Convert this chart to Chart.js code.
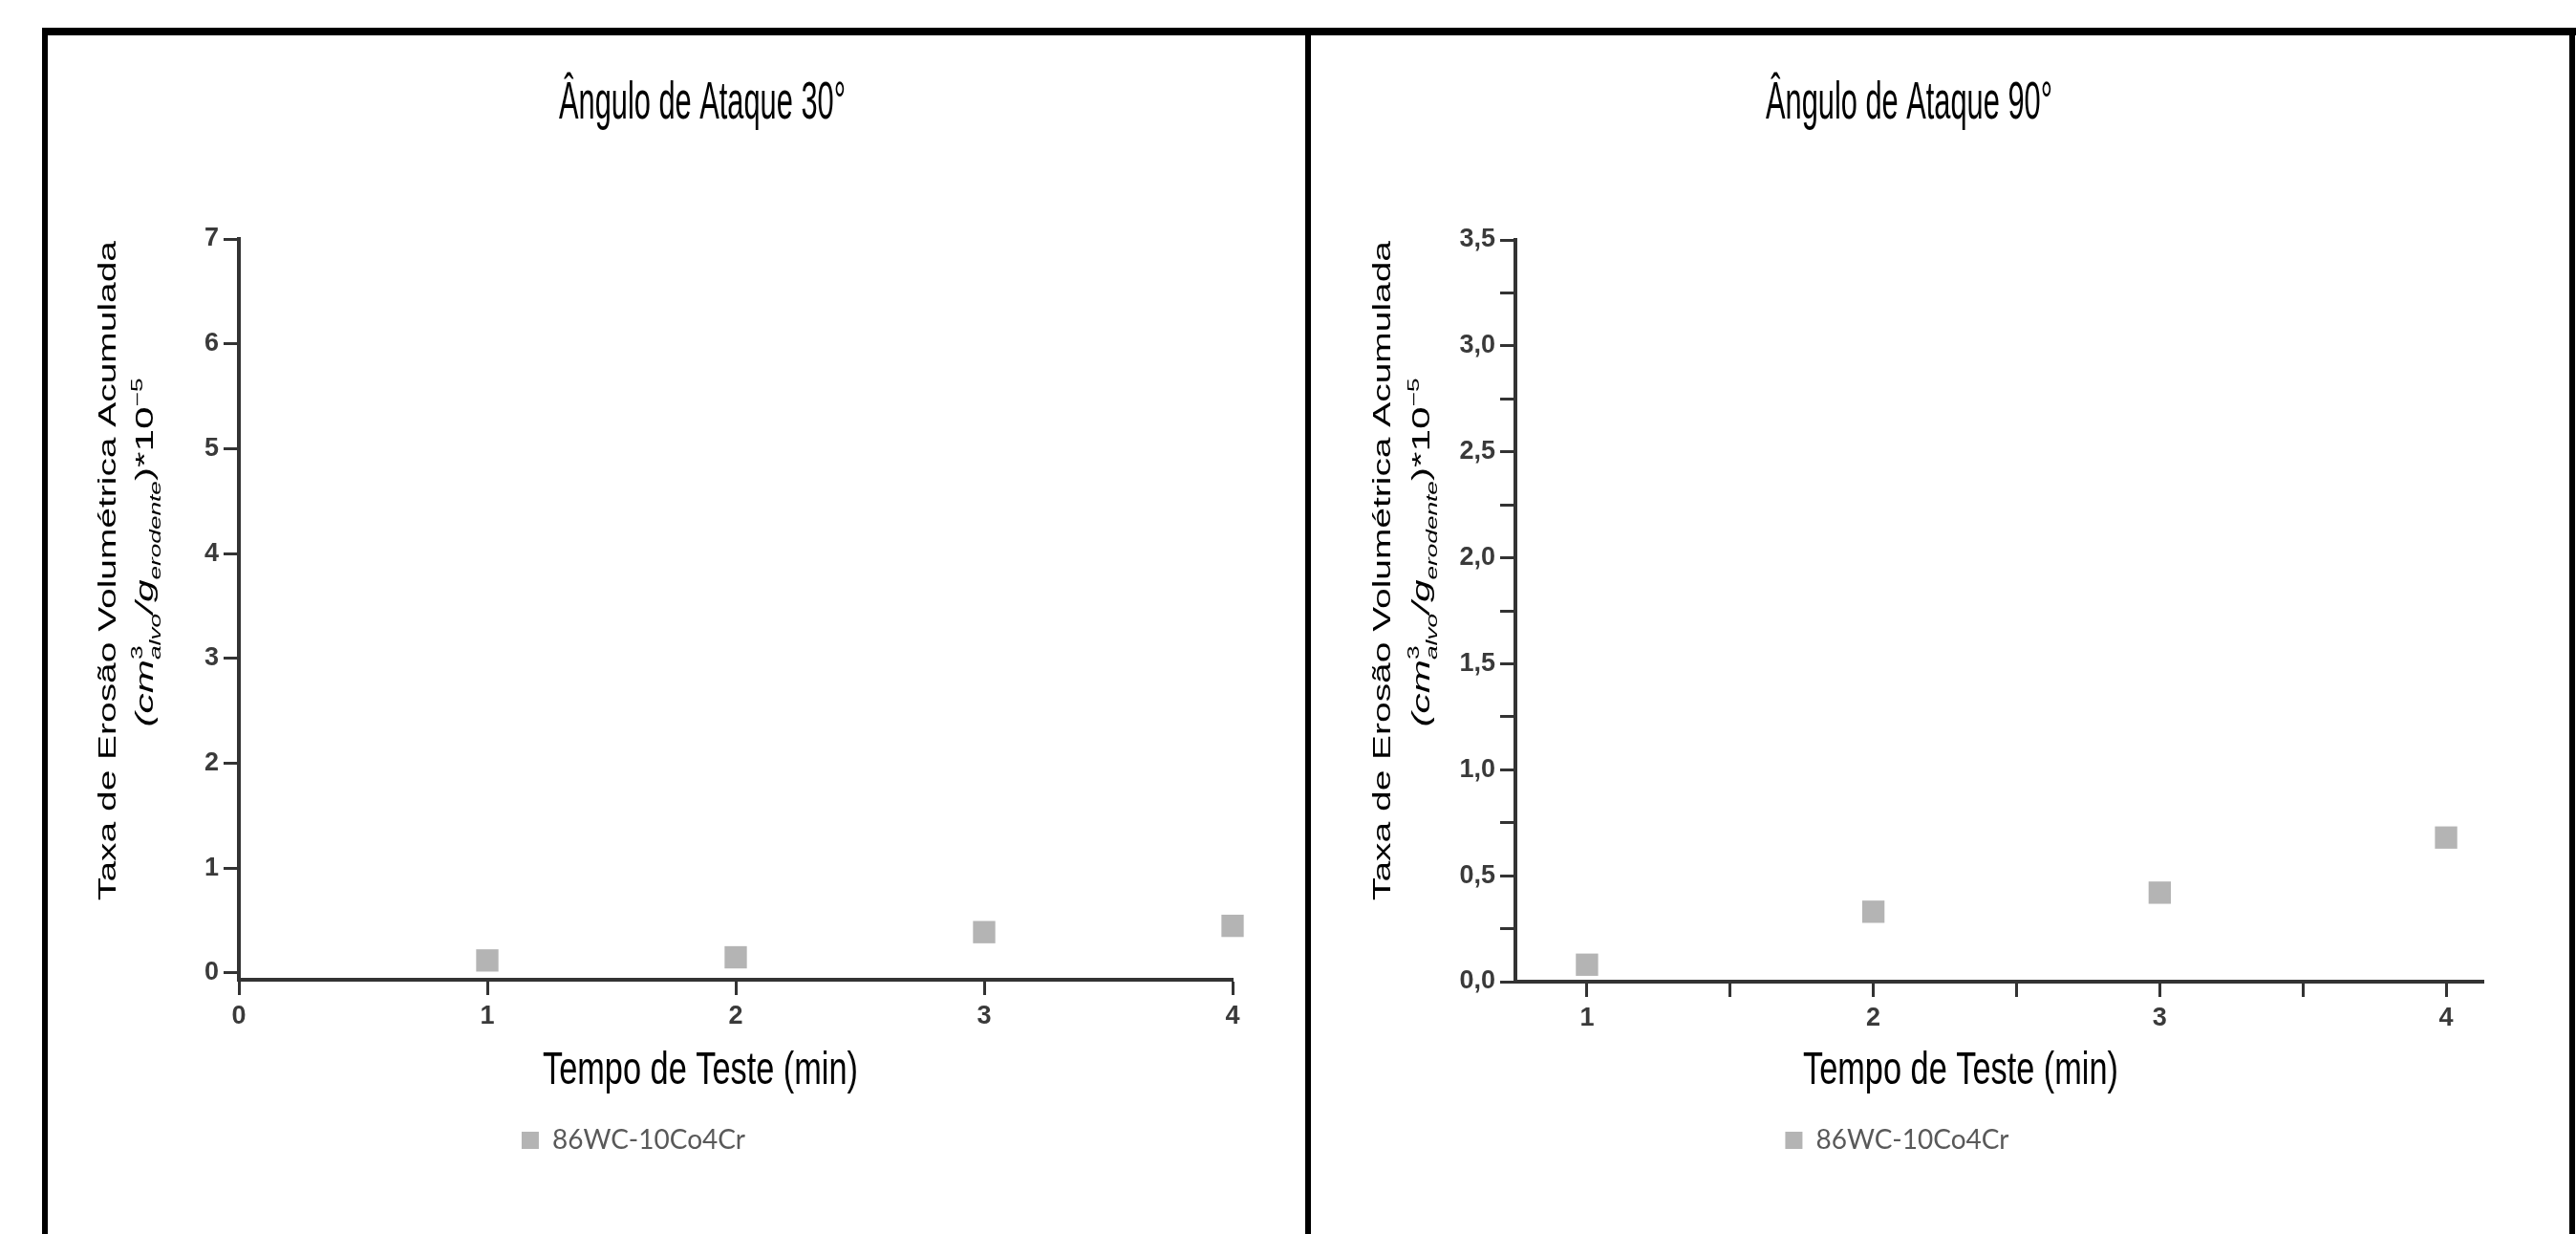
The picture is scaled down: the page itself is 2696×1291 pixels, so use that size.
<!DOCTYPE html>
<html>
<head>
<meta charset="utf-8">
<script src="https://cdn.jsdelivr.net/npm/chart.js@4/dist/chart.umd.min.js"></script>
<style>
  html, body { margin: 0; padding: 0; background: #fff; width: 2696px; height: 1291px; overflow: hidden; }
  .rule { position: absolute; background: #000; }
  .wrap { position: absolute; top: 0; height: 1291px; }
</style>
</head>
<body>
<div class="rule" style="left:44px;top:29px;width:2652px;height:8px"></div>
<div class="rule" style="left:44px;top:29px;width:6px;height:1262px"></div>
<div class="rule" style="left:1366px;top:29px;width:6px;height:1262px"></div>
<div class="rule" style="left:2689px;top:29px;width:6px;height:1262px"></div>
<div class="wrap" style="left:0px;width:1340px"><canvas id="chart30"></canvas></div>
<div class="wrap" style="left:1300px;width:1396px"><canvas id="chart90"></canvas></div>

<script>
const seriesName = '86WC-10Co4Cr';
const testTimes = [1, 2, 3, 4];
const rate30 = [0.12, 0.15, 0.39, 0.45];
const rate90 = [0.08, 0.33, 0.42, 0.68];

const xTicks30 = [0, 1, 2, 3, 4];
const yTicks30 = [0, 1, 2, 3, 4, 5, 6, 7];
const xTicks90 = [1, 1.5, 2, 2.5, 3, 3.5, 4];
const xLabels90 = ['1', '', '2', '', '3', '', '4'];
const yTicks90 = [0, 0.25, 0.5, 0.75, 1, 1.25, 1.5, 1.75, 2, 2.25, 2.5, 2.75, 3, 3.25, 3.5];
const yLabels90 = ['0,0', '', '0,5', '', '1,0', '', '1,5', '', '2,0', '', '2,5', '', '3,0', '', '3,5'];

const title30 = 'Ângulo de Ataque 30°';
const title90 = 'Ângulo de Ataque 90°';
const xTitle = 'Tempo de Teste (min)';
const yTitle = 'Taxa de Erosão Volumétrica Acumulada';
// second line of the y title, with sub/superscripts
const yUnitRuns = [
    { t: '(', italic: true },
    { t: 'cm', italic: true },
    { t: '3', sup: true, stack: true },
    { t: 'alvo', sub: true, italic: true },
    { t: '/', italic: true },
    { t: 'g', italic: true },
    { t: 'erodente', sub: true, italic: true },
    { t: ')*10' },
    { t: '\u22125', sup: true }
];

const FONT = '"Liberation Sans", Arial, sans-serif';

// draw a text squeezed/stretched to a given length
function drawFitted(ctx, text, x, y, size, length, rotated) {
    ctx.save();
    ctx.font = `${size}px ${FONT}`;
    const w = ctx.measureText(text).width;
    ctx.translate(x, y);
    if (rotated) ctx.rotate(-Math.PI / 2);
    ctx.scale(length / w, 1);
    ctx.textAlign = 'center';
    ctx.textBaseline = 'alphabetic';
    ctx.fillText(text, 0, 0);
    ctx.restore();
}

function runFont(run, size) {
    const s = (run.sub || run.sup) ? size * 0.62 : size;
    return `${run.italic ? 'italic ' : ''}${s}px ${FONT}`;
}

function drawRuns(ctx, runs, x, y, size, length) {
    ctx.save();
    let total = 0, held = 0;
    runs.forEach(run => {
        ctx.font = runFont(run, size);
        const w = ctx.measureText(run.t).width;
        if (run.stack) { held = w; return; }
        total += Math.max(w, held);
        held = 0;
    });
    ctx.translate(x, y);
    ctx.rotate(-Math.PI / 2);
    ctx.scale(length / total, 1);
    ctx.textAlign = 'left';
    ctx.textBaseline = 'alphabetic';
    let cursor = -total / 2;
    held = 0;
    runs.forEach(run => {
        ctx.font = runFont(run, size);
        const w = ctx.measureText(run.t).width;
        const dy = run.sub ? size * 0.3 : run.sup ? -size * 0.42 : 0;
        ctx.fillText(run.t, cursor, dy);
        if (run.stack) { held = w; return; }
        cursor += Math.max(w, held);
        held = 0;
    });
    ctx.restore();
}

const panelText = {
    id: 'panelText',
    afterLayout(chart, args, opts) {
        chart.legend.left += opts.legendShift;
        chart.legend.right += opts.legendShift;
    },
    afterDraw(chart, args, opts) {
        const ctx = chart.ctx;
        const ox = opts.offsetX;
        ctx.save();
        ctx.fillStyle = '#000';
        drawFitted(ctx, opts.title, opts.titleX - ox, 124, 56, 300, false);
        drawFitted(ctx, xTitle, opts.xTitleX - ox, 1134, 48, 330, false);
        drawFitted(ctx, yTitle, opts.yLine1X - ox, 597, 26, 690, true);
        drawRuns(ctx, yUnitRuns, opts.yLine2X - ox, 578, 26, 365);
        ctx.restore();
    }
};

const tickFont = { family: FONT, size: 27, weight: 'bold' };
const axisGrid = { drawOnChartArea: false, drawTicks: true, tickLength: 16, tickWidth: 3, tickColor: '#333' };
const axisBorder = { display: true, color: '#333', width: 4 };

function makeChart(id, values, cfg) {
    const ctx = document.getElementById(id).getContext('2d');
    return new Chart(ctx, {
        type: 'scatter',
        data: {
            datasets: [{
                label: seriesName,
                data: testTimes.map((t, i) => ({ x: t, y: values[i] })),
                pointStyle: 'rect',
                pointRadius: 16.5,
                pointHoverRadius: 16.5,
                backgroundColor: '#b4b4b4',
                borderWidth: 0,
                clip: false
            }]
        },
        options: {
            responsive: true,
            maintainAspectRatio: false,
            animation: false,
            layout: { padding: { left: 0, right: cfg.padRight, top: cfg.padTop, bottom: 74 } },
            scales: {
                x: {
                    type: 'linear',
                    min: cfg.xMin,
                    max: cfg.xMax,
                    afterBuildTicks: axis => { axis.ticks = cfg.xTicks.map(value => ({ value })); },
                    afterFit: axis => { axis.height = cfg.xHeight; },
                    ticks: {
                        autoSkip: false, maxRotation: 0, padding: 6,
                        color: '#3a3a3a', font: tickFont,
                        callback: (v, i) => cfg.xLabels[i]
                    },
                    grid: axisGrid,
                    border: axisBorder
                },
                y: {
                    type: 'linear',
                    min: cfg.yMin,
                    max: cfg.yMax,
                    afterBuildTicks: axis => { axis.ticks = cfg.yTicks.map(value => ({ value })); },
                    afterFit: axis => { axis.width = cfg.yWidth; },
                    ticks: {
                        autoSkip: false, padding: 5,
                        color: '#3a3a3a', font: tickFont,
                        callback: (v, i) => cfg.yLabels[i]
                    },
                    grid: axisGrid,
                    border: axisBorder
                }
            },
            plugins: {
                title: { display: false },
                tooltip: { enabled: false },
                legend: {
                    position: 'bottom',
                    labels: {
                        boxWidth: 18,
                        boxHeight: 18,
                        padding: 10,
                        color: '#595959',
                        font: { family: 'Lato, "Open Sans", sans-serif', size: 28 }
                    }
                },
                panelText: cfg.text
            }
        },
        plugins: [panelText]
    });
}

makeChart('chart30', rate30, {
    xMin: 0, xMax: 4, yMin: -0.064, yMax: 7,
    xTicks: xTicks30, xLabels: xTicks30.map(String),
    yTicks: yTicks30, yLabels: yTicks30.map(String),
    padRight: 50, padTop: 250, xHeight: 144, yWidth: 250,
    text: { offsetX: 0, legendShift: 18, title: title30, titleX: 735,
            xTitleX: 733, yLine1X: 121, yLine2X: 160 }
});

makeChart('chart90', rate90, {
    xMin: 0.75, xMax: 4.13, yMin: 0, yMax: 3.5,
    xTicks: xTicks90, xLabels: xLabels90,
    yTicks: yTicks90, yLabels: yLabels90,
    padRight: 97, padTop: 251, xHeight: 142, yWidth: 286,
    text: { offsetX: 1300, legendShift: 36, title: title90, titleX: 1998,
            xTitleX: 2052, yLine1X: 1455, yLine2X: 1496 }
});
</script>
</body>
</html>
